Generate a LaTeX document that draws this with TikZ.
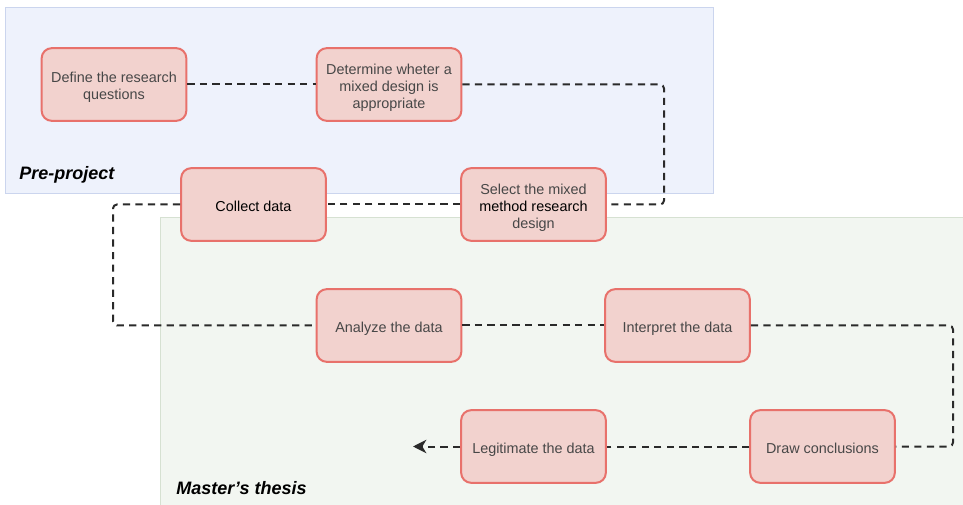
\documentclass[tikz,border=0pt]{standalone}
\usepackage{fontspec}
\setmainfont{Liberation Sans}
\usetikzlibrary{arrows.meta,calc}
\definecolor{preFill}{HTML}{EEF2FC}
\definecolor{preLine}{HTML}{CBD5EE}
\definecolor{thesisFill}{HTML}{F2F6F1}
\definecolor{thesisLine}{HTML}{D6E1D2}
\definecolor{stepFill}{HTML}{F2D2CE}
\definecolor{stepLine}{HTML}{E8716B}
\definecolor{stepText}{HTML}{474747}
\definecolor{linkLine}{HTML}{2A2A2A}
% struts fixing the first line height and last line depth of a step label
\newcommand{\topstrut}{\rule{0pt}{12pt}}
\newcommand{\botstrut}{\rule[-2.2pt]{0pt}{2.2pt}}
\tikzset{
  phase/.style={line width=0.6pt},
  stepbox/.style={draw=stepLine, fill=stepFill, line width=1.5pt,
    rounded corners=7.5pt, minimum width=108.5pt, minimum height=54.5pt,
    inner sep=0pt, align=center, text=stepText,
    font=\fontsize{10.8pt}{12.75pt}\selectfont},
  link/.style={draw=linkLine, line width=1.5pt, dash pattern=on 5.4pt off 4pt,
    rounded corners=3pt},
  phaselabel/.style={anchor=west, inner sep=0pt,
    font=\fontsize{13.5pt}{16pt}\selectfont\bfseries\itshape}
}
\begin{document}
\begin{tikzpicture}[x=0.75pt, y=-0.75pt]
\useasboundingbox (0,0) rectangle (963,505);
% phase backgrounds
\fill[white] (0,0) rectangle (963,505);
\draw[phase, draw=preLine, fill=preFill] (5,7) rectangle (713,193);
\draw[phase, draw=thesisLine, fill=thesisFill] (160,217) rectangle (966,508);
\node[phaselabel] (prelbl) at (19,175) {Pre-project};
\node[phaselabel] (thesislbl) at (176,488) {Master's thesis};

% process steps
\node[stepbox] (def) at (114,84.5) {\topstrut Define the research\\questions\botstrut};
\node[stepbox] (det) at (389,84.5) {\topstrut Determine wheter a\\mixed design is\\appropriate\botstrut};
\node[stepbox] (col) at (253.5,204.5) {\topstrut\color{black}Collect data\botstrut};
\node[stepbox] (sel) at (533.5,204.5) {\topstrut Select the mixed\\{\color{black}method research}\\design\botstrut};
\node[stepbox] (ana) at (389,325.5) {\topstrut Analyze the data\botstrut};
\node[stepbox] (int) at (677.5,325.5) {\topstrut Interpret the data\botstrut};
\node[stepbox] (leg) at (533.5,446.5) {\topstrut Legitimate the data\botstrut};
\node[stepbox] (drw) at (822.5,446.5) {\topstrut Draw conclusions\botstrut};

% turning points of the connectors
\coordinate (rtop) at (664,140);
\coordinate (lmid) at (113,260);
\coordinate (rlow) at (953,380);
\coordinate (tail) at (413,446.5);

% connectors
\draw[link] (def.east) -- (det.west);
\draw[link] (det.east) -- (det.east -| rtop) -- (sel.east -| rtop) -- (sel.east);
\draw[link] (sel.west) -- (col.east);
\draw[link] (col.west) -- (col.west -| lmid) -- (ana.west -| lmid) -- (ana.west);
\draw[link] (ana.east) -- (int.west);
\draw[link] (int.east) -- (int.east -| rlow) -- (drw.east -| rlow) -- (drw.east);
\draw[link] (drw.west) -- (leg.east);
\draw[link, -{Stealth[length=10pt,width=10pt,inset=3pt]}] (leg.west) -- (tail);
\end{tikzpicture}
\end{document}
